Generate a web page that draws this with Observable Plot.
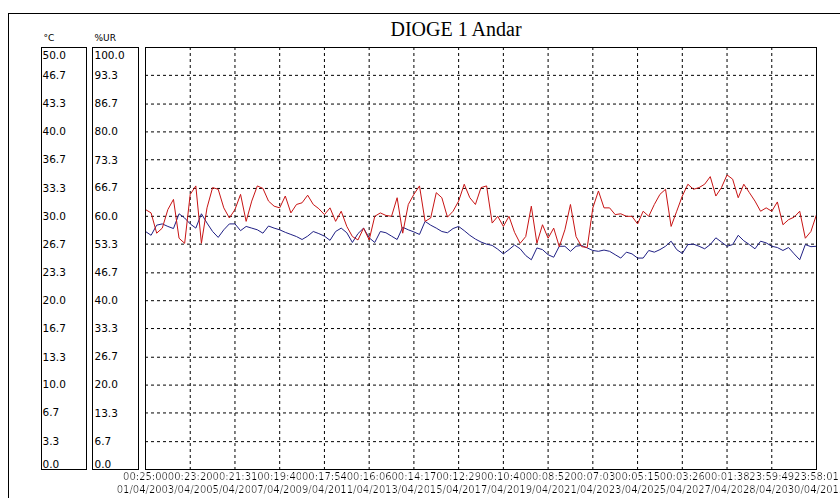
<!DOCTYPE html>
<html><head><meta charset="utf-8">
<script src="https://cdn.jsdelivr.net/npm/d3@7"></script>
<script src="https://cdn.jsdelivr.net/npm/@observablehq/plot@0.6"></script>
<style>
html,body{margin:0;padding:0;background:#fff;overflow:hidden;}
#wrap{position:relative;width:840px;height:498px;overflow:hidden;background:#fff;}
#chart{position:absolute;left:0;top:0;}
#outer{position:absolute;left:8px;top:13px;width:900px;height:600px;border-top:1px solid #000;border-left:1px solid #000;}
.box{position:absolute;top:47px;height:423px;border:1px solid #000;box-sizing:border-box;}
</style></head><body>
<svg width="0" height="0" style="position:absolute"><defs><filter id="bg" x="0" y="0" width="1" height="1"><feFlood flood-color="#fff"/><feComposite in="SourceGraphic" operator="over"/></filter></defs></svg>
<div id="wrap"><div id="chart"></div><div id="outer"></div><div class="box" style="left:41px;width:46px"></div><div class="box" style="left:92px;width:47px"></div></div>
<script>
const titleText = "DIOGE 1 Andar";
const unitTemp = "°C";
const unitUR = "%UR";
const startTime = "01/04/2015 00:25:00";
const endTime = "30/04/2015 23:58:01";
const tickTimes = ["00:25:00","00:23:20","00:21:31","00:19:40","00:17:54","00:16:06","00:14:17","00:12:29","00:10:40","00:08:52","00:07:03","00:05:15","00:03:26","00:01:38","23:59:49","23:58:01"];
const tickDates = ["01/04/2015","03/04/2015","05/04/2015","07/04/2015","09/04/2015","11/04/2015","13/04/2015","15/04/2015","17/04/2015","19/04/2015","21/04/2015","23/04/2015","25/04/2015","27/04/2015","28/04/2015","30/04/2015"];
const tempLabels = ["0.0","3.3","6.7","10.0","13.3","16.7","20.0","23.3","26.7","30.0","33.3","36.7","40.0","43.3","46.7","50.0"];
const urLabels = ["0.0","6.7","13.3","20.0","26.7","33.3","40.0","46.7","53.3","60.0","66.7","73.3","80.0","86.7","93.3","100.0"];
// temperature (°C), one reading every ~6 h
const tempValues = [30.8,30.4,28.0,28.6,30.8,32.0,27.4,26.8,32.6,33.6,
26.8,31.0,33.4,33.2,31.0,29.8,30.8,32.6,29.4,31.8,
33.6,33.3,31.8,31.2,31.0,32.4,30.4,31.4,31.6,32.5,
31.4,30.9,30.2,31.0,29.4,30.6,28.8,27.6,27.2,28.6,
27.2,30.0,30.4,30.1,30.0,32.2,28.0,31.4,32.6,33.6,
29.4,29.8,32.8,32.2,29.9,30.6,31.8,33.8,32.2,31.4,
33.4,33.6,29.2,30.0,28.8,30.0,28.1,26.8,27.6,31.2,
26.8,29.0,27.4,28.6,26.4,28.4,31.4,27.6,26.4,26.3,
31.0,33.0,31.0,31.0,30.2,30.3,30.0,30.0,29.1,30.6,
30.0,31.4,32.6,33.2,28.8,30.6,32.4,33.8,33.2,33.4,
33.8,34.7,32.4,33.4,34.9,34.4,32.2,33.8,32.8,31.8,
30.6,31.0,30.6,31.7,29.0,29.6,29.9,30.6,27.4,28.2,
30.2];
// relative humidity (%UR)
const urValues = [56.4,55.5,57.9,58.2,57.6,57.1,60.6,59.6,58.2,57.2,
60.6,58.4,56.4,55.0,56.8,58.2,58.2,56.6,57.6,57.2,
56.8,56.0,57.7,57.2,56.8,56.2,55.7,55.2,54.5,55.3,
56.4,55.9,55.3,54.3,56.4,57.2,56.1,53.8,55.9,57.2,
54.9,53.8,56.4,56.1,55.3,54.5,57.4,56.8,56.3,55.7,
58.8,57.9,57.2,56.4,56.1,57.1,57.6,56.6,55.5,54.6,
53.9,53.4,53.1,52.2,51.1,52.1,53.2,52.3,50.7,49.7,
52.5,52.1,50.9,50.3,52.9,52.9,51.7,52.9,53.1,52.5,
51.9,51.7,52.0,51.7,50.9,50.1,51.5,51.1,50.1,50.1,
51.9,51.5,52.1,52.9,54.1,52.1,51.2,53.3,53.4,52.9,
52.3,53.3,54.9,53.9,52.9,53.3,55.5,54.2,53.3,52.3,
54.1,53.7,52.9,52.6,51.9,52.6,51.1,49.7,53.3,52.8,
52.9];

const parse = d3.timeParse("%d/%m/%Y %H:%M:%S");
const t0 = parse(startTime), t1 = parse(endTime);
const n = tempValues.length;
const samples = tempValues.map((v, i) => ({
  t: new Date(+t0 + (t1 - t0) * i / (n - 1)),
  temp: v,
  ur: urValues[i]
}));
const ticks = tickTimes.map((tm, i) => ({t: parse(tickDates[i] + " " + tm), time: tm, date: tickDates[i]}));
const tempNum = tempLabels.map(Number);

const labelFont = {fontFamily: "DejaVu Sans", fontSize: 10.5, fill: "#000", textAnchor: "start", frameAnchor: "left"};
function boxLabels(labels, toY, dx) {
  const last = labels.length - 1;
  return [
    Plot.text(labels.slice(1, last), {...labelFont, y: d => toY(+d), text: d => d, dx}),
    Plot.text([labels[last]], {...labelFont, y: d => toY(+d), text: d => d, dx, lineAnchor: "top", dy: 4}),
    Plot.text([labels[0]], {...labelFont, y: d => toY(+d), text: d => d, dx, lineAnchor: "bottom", dy: -2})
  ];
}

const chart = Plot.plot({
  width: 840, height: 498,
  marginLeft: 145, marginRight: 24, marginTop: 47, marginBottom: 29,
  x: {type: "time", domain: [t0, t1], axis: null},
  y: {domain: [0, 50], axis: null},
  style: {background: "white", color: "black", fontFamily: "DejaVu Sans", fontSize: "11px"},
  marks: [
    Plot.ruleY(tempNum.slice(1, -1), {stroke: "#000", strokeDasharray: "3,3", strokeWidth: 1}),
    Plot.ruleX(ticks.slice(1, -1), {x: "t", stroke: "#000", strokeDasharray: "3,3", strokeWidth: 1}),
    Plot.line(samples, {x: "t", y: d => d.ur / 2, stroke: "#1f1f84", strokeWidth: 1}),
    Plot.line(samples, {x: "t", y: "temp", stroke: "#c81414", strokeWidth: 1}),
    Plot.frame({stroke: "#000"}),
    Plot.text(ticks, {x: "t", text: "time", frameAnchor: "bottom", dy: 10, fontFamily: "DejaVu Sans", fontSize: 10, fill: "#000"}),
    Plot.text(ticks, {x: "t", text: "date", frameAnchor: "bottom", dy: 23, fontFamily: "DejaVu Sans", fontSize: 10, fill: "#000"}),
    ...boxLabels(tempLabels, v => v, -103),
    ...boxLabels(urLabels, v => v / 2, -51),
    Plot.text([unitTemp], {frameAnchor: "top-left", text: d => d, dx: -102, dy: -13, textAnchor: "start", fontFamily: "DejaVu Sans", fontSize: 9, fill: "#000"}),
    Plot.text([unitUR], {frameAnchor: "top-left", text: d => d, dx: -51, dy: -13, textAnchor: "start", fontFamily: "DejaVu Sans", fontSize: 9, fill: "#000"}),
    Plot.text([titleText], {frameAnchor: "top", text: d => d, dx: -25, dy: -26, fontFamily: "Liberation Serif", fontSize: 20, fill: "#000"})
  ]
});
d3.select(chart).selectAll("text").filter(function() { return /[:\/]/.test(this.textContent); }).attr("filter", "url(#bg)");
document.getElementById("chart").appendChild(chart);
</script>
</body></html>
